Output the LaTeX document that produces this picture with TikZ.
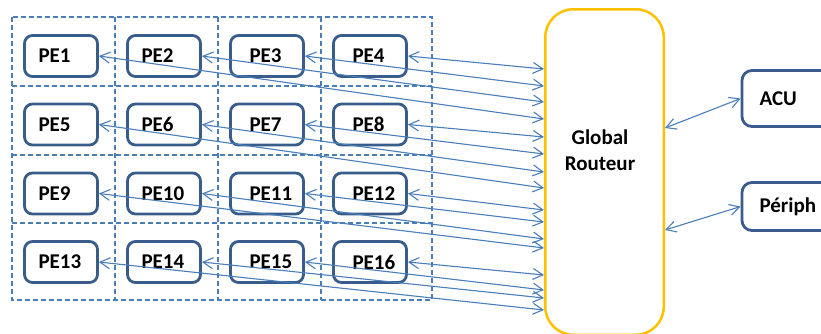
\documentclass[tikz,border=0pt]{standalone}
\usepackage{fontspec}
\setmainfont{Carlito}
\usetikzlibrary{arrows.meta}
\definecolor{peblue}{RGB}{56,93,138}
\definecolor{linkblue}{RGB}{74,126,187}
\definecolor{routeryellow}{RGB}{255,192,0}

\begin{document}
\begin{tikzpicture}[x=1pt, y=-1pt,
    >={Straight Barb[length=10pt,width=11pt]},
    lbl/.style={font=\fontsize{21}{26}\selectfont\bfseries, inner sep=0pt},
    pe/.style={lbl, draw=peblue, line width=2.8pt, rounded corners=8pt, minimum height=41pt, inner xsep=14pt, inner ysep=0pt, text width=45pt, align=left},
    pefar/.style={pe, execute at begin node={\hspace*{5pt}}},
    unit/.style={lbl, draw=peblue, line width=2.8pt, rounded corners=10pt, inner xsep=17.5pt, inner ysep=0pt, text width=54pt, align=left},
    router/.style={draw=routeryellow, line width=2.5pt, rounded corners=28pt, minimum width=118.5pt, minimum height=325.5pt},
    link/.style={draw=linkblue, line width=1.1pt, <->},
    cellline/.style={draw=linkblue, line width=1.3pt, dash pattern=on 5pt off 3pt}]
    \useasboundingbox (0,0) rectangle (821,333);

    % Dashed cells
    \draw[cellline] (12,17) rectangle (432,300);
    \draw[cellline] (115,17) -- (115,300) (218,17) -- (218,300) (321,17) -- (321,300);
    \draw[cellline] (12,86) -- (432,86) (12,155) -- (432,155) (12,223) -- (432,223);

    % Row 1
    \node[pe] (pe1) at (61,56) {PE1};
    \node[pe] (pe2) at (164,56) {PE2};
    \node[pefar] (pe3) at (267,56) {PE3};
    \node[pefar] (pe4) at (370,56) {PE4};
    % Row 2
    \node[pe] (pe5) at (61,124.5) {PE5};
    \node[pe] (pe6) at (164,124.5) {PE6};
    \node[pefar] (pe7) at (267,124.5) {PE7};
    \node[pefar] (pe8) at (370,124.5) {PE8};
    % Row 3
    \node[pe] (pe9) at (61,193.5) {PE9};
    \node[pe] (pe10) at (164,193.5) {PE10};
    \node[pefar] (pe11) at (267,193.5) {PE11};
    \node[pefar] (pe12) at (370,193.5) {PE12};
    % Row 4
    \node[pe] (pe13) at (61,262) {PE13};
    \node[pe] (pe14) at (164,262) {PE14};
    \node[pefar] (pe15) at (267,262) {PE15};
    \node[pefar] (pe16) at (370,262) {PE16};

    % Global router
    \node[router] (gr) at (604.5,172) {};
    \node[lbl, align=center] (grname) at (600,150) {Global\\Routeur};

    % ACU and peripherals
    \node[unit, minimum height=56pt] (acu) at (786.5,98.5) {ACU};
    \node[unit, minimum height=48pt] (periph) at (786.5,206.5) {Périph};

    % Ports on the router
    \coordinate (in4) at (gr.west |- 0,69);
    \coordinate (in3) at (gr.west |- 0,86);
    \coordinate (in2) at (gr.west |- 0,102);
    \coordinate (in1) at (gr.west |- 0,119);
    \coordinate (in8) at (gr.west |- 0,137);
    \coordinate (in7) at (gr.west |- 0,154);
    \coordinate (in6) at (gr.west |- 0,172);
    \coordinate (in5) at (gr.west |- 0,188);
    \coordinate (in12) at (gr.west |- 0,210);
    \coordinate (in11) at (gr.west |- 0,222);
    \coordinate (in10) at (gr.west |- 0,239);
    \coordinate (in9) at (gr.west |- 0,248);
    \coordinate (in16) at (gr.west |- 0,275);
    \coordinate (in15) at (gr.west |- 0,290);
    \coordinate (in14) at (gr.west |- 0,298);
    \coordinate (in13) at (gr.west |- 0,310);
    \coordinate (outacu) at (gr.east |- 0,128);
    \coordinate (outperiph) at (gr.east |- 0,230);

    % Links
    \draw[link] (pe1.east) -- (in1);
    \draw[link] (pe2.east) -- (in2);
    \draw[link] (pe3.east) -- (in3);
    \draw[link] (pe4.east) -- (in4);
    \draw[link] (pe5.east) -- (in5);
    \draw[link] (pe6.east) -- (in6);
    \draw[link] (pe7.east) -- (in7);
    \draw[link] (pe8.east) -- (in8);
    \draw[link] (pe9.east) -- (in9);
    \draw[link] (pe10.east) -- (in10);
    \draw[link] (pe11.east) -- (in11);
    \draw[link] (pe12.east) -- (in12);
    \draw[link] (pe13.east) -- (in13);
    \draw[link] (pe14.east) -- (in14);
    \draw[link] (pe15.east) -- (in15);
    \draw[link] (pe16.east) -- (in16);
    \draw[link] (outacu) -- (acu.west);
    \draw[link] (outperiph) -- (periph.west);
\end{tikzpicture}
\end{document}
